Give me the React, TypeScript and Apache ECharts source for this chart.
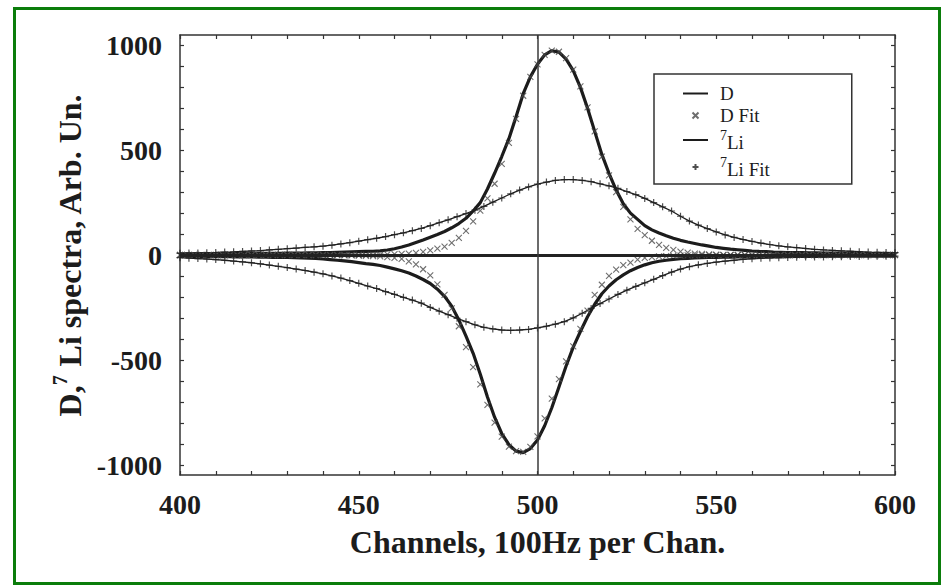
import React, { useEffect, useRef } from "react";
import * as echarts from "echarts";

// Channel positions (x) for the D spectrum and its fit (every 2 channels)
const channelsD = [
  400, 402, 404, 406, 408, 410, 412, 414, 416, 418,
  420, 422, 424, 426, 428, 430, 432, 434, 436, 438,
  440, 442, 444, 446, 448, 450, 452, 454, 456, 458,
  460, 462, 464, 466, 468, 470, 472, 474, 476, 478,
  480, 482, 484, 486, 488, 490, 492, 494, 496, 498,
  500, 502, 504, 506, 508, 510, 512, 514, 516, 518,
  520, 522, 524, 526, 528, 530, 532, 534, 536, 538,
  540, 542, 544, 546, 548, 550, 552, 554, 556, 558,
  560, 562, 564, 566, 568, 570, 572, 574, 576, 578,
  580, 582, 584, 586, 588, 590, 592, 594, 596, 598,
  600,
];

// D spectrum, upper branch (solid line)
const dUpper = [
  5, 5, 5, 6, 6, 6, 6, 7, 7, 7,
  7, 8, 8, 8, 8, 9, 9, 9, 10, 10,
  11, 12, 13, 14, 15, 16, 17, 18, 20, 24,
  30, 38, 48, 60, 72, 85, 98, 112, 130, 150,
  175, 210, 250, 315, 390, 470, 555, 660, 770, 850,
  910, 955, 975, 968, 935, 880, 800, 700, 590, 480,
  390, 310, 245, 200, 170, 140, 120, 105, 92, 80,
  70, 62, 55, 48, 42, 36, 32, 28, 25, 22,
  19, 17, 16, 14, 13, 12, 11, 11, 10, 10,
  9, 9, 9, 8, 8, 8, 7, 7, 7, 7,
  6,
];

// D spectrum, lower branch (solid line)
const dLower = [
  -6, -6, -7, -7, -7, -8, -8, -8, -9, -9,
  -9, -10, -10, -11, -11, -12, -13, -14, -15, -16,
  -19, -22, -25, -28, -32, -36, -41, -45, -50, -58,
  -66, -75, -86, -100, -117, -136, -163, -197, -244, -310,
  -387, -469, -569, -678, -774, -852, -905, -936, -943, -924,
  -883, -815, -729, -630, -530, -440, -365, -295, -235, -185,
  -148, -118, -95, -75, -60, -47, -37, -30, -25, -21,
  -18, -16, -14, -13, -12, -11, -10, -10, -9, -9,
  -9, -8, -8, -8, -8, -7, -7, -7, -7, -7,
  -6, -6, -6, -6, -6, -6, -5, -5, -5, -5,
  -5,
];

// D fit, upper branch (x markers)
const dFitUpper = [
  0, 0, 0, 0, 0, 0, 0, 0, 0, 0,
  0, 0, 0, 0, 0, 0, 0, 0, 0, 0,
  0, 0, 0, 0, 0, 0, 1, 1, 2, 3,
  4, 5, 7, 10, 15, 22, 30, 40, 58, 82,
  115, 160, 212, 270, 340, 435, 535, 650, 760, 850,
  910, 955, 975, 970, 940, 885, 805, 705, 590, 470,
  380, 300, 230, 170, 125, 95, 68, 48, 34, 24,
  16, 11, 7, 5, 3, 2, 1, 1, 0, 0,
  0, 0, 0, 0, 0, 0, 0, 0, 0, 0,
  0, 0, 0, 0, 0, 0, 0, 0, 0, 0,
  0,
];

// D fit, lower branch (x markers)
const dFitLower = [
  0, 0, 0, 0, 0, 0, 0, 0, 0, 0,
  0, 0, 0, 0, 0, 0, 0, 0, 0, 0,
  0, -1, -1, -2, -2, -3, -4, -5, -7, -10,
  -14, -19, -30, -45, -68, -97, -140, -190, -255, -340,
  -440, -535, -617, -715, -800, -867, -915, -936, -940, -916,
  -866, -780, -686, -592, -508, -436, -353, -265, -190, -142,
  -100, -70, -48, -36, -22, -14, -10, -7, -5, -4,
  -3, -2, -2, -1, -1, -1, -1, 0, 0, 0,
  0, 0, 0, 0, 0, 0, 0, 0, 0, 0,
  0, 0, 0, 0, 0, 0, 0, 0, 0, 0,
  0,
];

// Channel positions (x) for the 7Li spectrum and its fit
const channelsLi = [
  400, 402.5, 405, 407.5, 410, 412.5, 415, 417.5,
  420, 422.5, 425, 427.5, 430, 432.5, 435, 437.5,
  440, 442.5, 445, 447.5, 450, 452.5, 455, 457.5,
  460, 462.5, 465, 467.5, 470, 472.5, 475, 477.5,
  480, 482.5, 485, 487.5, 490, 492.5, 495, 497.5,
  500, 502.5, 505, 507.5, 510, 512.5, 515, 517.5,
  520, 522.5, 525, 527.5, 530, 532.5, 535, 537.5,
  540, 542.5, 545, 547.5, 550, 552.5, 555, 557.5,
  560, 562.5, 565, 567.5, 570, 572.5, 575, 577.5,
  580, 582.5, 585, 587.5, 590, 592.5, 595, 597.5,
  600,
];

// 7Li spectrum, upper branch
const liUpper = [
  8, 9, 10, 11, 12, 14, 15, 17,
  19, 21, 24, 27, 30, 33, 36, 39,
  42, 47, 53, 59, 66, 73, 80, 88,
  97, 106, 116, 127, 140, 154, 168, 183,
  198, 214, 232, 252, 272, 292, 310, 325,
  338, 348, 356, 360, 360, 356, 350, 340,
  330, 318, 303, 288, 270, 250, 230, 210,
  185, 162, 143, 126, 110, 96, 84, 74,
  65, 57, 50, 44, 39, 35, 31, 27,
  24, 22, 20, 18, 16, 14, 13, 12,
  11,
];

// 7Li spectrum, lower branch
const liLower = [
  -13, -15, -17, -19, -22, -25, -29, -33,
  -37, -42, -48, -54, -60, -67, -74, -82,
  -90, -100, -110, -122, -135, -148, -160, -175,
  -188, -202, -215, -230, -250, -268, -285, -302,
  -318, -333, -345, -353, -358, -360, -358, -355,
  -348, -340, -330, -318, -300, -278, -255, -232,
  -210, -188, -168, -150, -133, -116, -98, -82,
  -67, -56, -47, -40, -34, -29, -25, -21,
  -18, -16, -14, -13, -12, -11, -10, -9,
  -9, -8, -8, -7, -7, -6, -6, -6,
  -5,
];

// 7Li fit (the + markers sit on the measured curve)
const liFitUpper = liUpper;
const liFitLower = liLower;

const FONT = '"Liberation Serif", "Times New Roman", Times, serif';
const INK = "#1c1c1c";
const AXIS = "#333333";
const X_PATH = "path://M0,0L10,10M10,0L0,10";
const PLUS_PATH = "path://M5,0L5,10M0,5L10,5";
const LINE_ICON = "path://M0,0H100V8H0Z";

const pairs = (xs: number[], ys: number[]) => xs.map((x, i) => [x, ys[i]]);

const tickLine = { color: AXIS, width: 1.2 };

const lineSeries = (name: string, xs: number[], ys: number[], width: number, extra: any = {}) => ({
  name,
  type: "line",
  xAxisIndex: 0,
  yAxisIndex: 0,
  data: pairs(xs, ys),
  symbol: "none",
  smooth: false,
  lineStyle: { color: INK, width },
  itemStyle: { color: INK },
  z: 3,
  ...extra,
});

const markerSeries = (name: string, xs: number[], ys: number[], symbol: string, size: number, color: string, bw: number) => ({
  name,
  type: "scatter",
  xAxisIndex: 0,
  yAxisIndex: 0,
  data: pairs(xs, ys),
  symbol,
  symbolSize: size,
  itemStyle: { color: "rgba(0,0,0,0)", borderColor: color, borderWidth: bw },
  z: 4,
});

const legendName = (name: string) => {
  if (name === "7Li") return "{s|7}{c|Li}";
  if (name === "7Li Fit") return "{s|7}{c|Li Fit}";
  return "{b|" + name + "}";
};

const plainNumber = (v: number) => String(v);

const option: any = {
  animation: false,
  backgroundColor: "#ffffff",
  graphic: [
    {
      type: "rect",
      shape: { x: 14.5, y: 8.5, width: 925, height: 575 },
      style: { fill: "none", stroke: "#0b7d0b", lineWidth: 3 },
      silent: true,
      z: 100,
    },
  ],
  grid: [
    { left: 180, right: 51, top: 35, bottom: 110 },
    { left: 180, right: 51, top: 45, bottom: 120 },
  ],
  xAxis: [
    {
      gridIndex: 0,
      type: "value",
      min: 400,
      max: 600,
      interval: 50,
      position: "bottom",
      axisLine: { show: true, onZero: false, lineStyle: { color: AXIS, width: 1.5 } },
      axisTick: { show: true, inside: true, length: 4, lineStyle: tickLine },
      minorTick: { show: true, splitNumber: 5, length: 4, lineStyle: tickLine },
      splitLine: { show: false },
      axisLabel: { fontFamily: FONT, fontSize: 28, fontWeight: "bold", color: INK, margin: 15, formatter: plainNumber },
      name: "Channels, 100Hz per Chan.",
      nameLocation: "middle",
      nameGap: 51,
      nameTextStyle: { fontFamily: FONT, fontSize: 32, fontWeight: "bold", color: INK },
    },
    {
      gridIndex: 0,
      type: "value",
      min: 400,
      max: 600,
      interval: 50,
      position: "top",
      axisLine: { show: true, onZero: false, lineStyle: { color: AXIS, width: 1.5 } },
      axisTick: { show: true, inside: true, length: 4, lineStyle: tickLine },
      minorTick: { show: true, splitNumber: 5, length: 4, lineStyle: tickLine },
      splitLine: { show: false },
      axisLabel: { show: false },
    },
    { gridIndex: 1, type: "value", min: 400, max: 600, show: false },
  ],
  yAxis: [
    {
      gridIndex: 0,
      type: "value",
      min: -1050,
      max: 1050,
      position: "left",
      axisLine: { show: true, onZero: false, lineStyle: { color: AXIS, width: 1.5 } },
      axisTick: { show: false },
      axisLabel: { show: false },
      splitLine: { show: false },
    },
    {
      gridIndex: 0,
      type: "value",
      min: -1050,
      max: 1050,
      position: "right",
      axisLine: { show: true, onZero: false, lineStyle: { color: AXIS, width: 1.5 } },
      axisTick: { show: false },
      axisLabel: { show: false },
      splitLine: { show: false },
    },
    {
      gridIndex: 1,
      type: "value",
      min: -1000,
      max: 1000,
      interval: 500,
      position: "left",
      axisLine: { show: false, onZero: false },
      axisTick: { show: true, inside: true, length: 4, lineStyle: tickLine },
      minorTick: { show: true, splitNumber: 5, length: 4, lineStyle: tickLine },
      splitLine: { show: false },
      axisLabel: { fontFamily: FONT, fontSize: 28, fontWeight: "bold", color: INK, margin: 18, formatter: plainNumber },
      name: "{b|D,}{s|7}{b| Li spectra, Arb. Un.}",
      nameLocation: "middle",
      nameGap: 84,
      nameTextStyle: {
        fontFamily: FONT,
        fontSize: 32,
        fontWeight: "bold",
        color: INK,
        rich: {
          b: { fontFamily: FONT, fontSize: 32, fontWeight: "bold", color: INK, lineHeight: 36, verticalAlign: "bottom" },
          s: { fontFamily: FONT, fontSize: 20, fontWeight: "bold", color: INK, lineHeight: 18, verticalAlign: "top" },
        },
      },
    },
    {
      gridIndex: 1,
      type: "value",
      min: -1000,
      max: 1000,
      interval: 500,
      position: "right",
      axisLine: { show: false, onZero: false },
      axisTick: { show: true, inside: true, length: 4, lineStyle: tickLine },
      minorTick: { show: true, splitNumber: 5, length: 4, lineStyle: tickLine },
      splitLine: { show: false },
      axisLabel: { show: false },
    },
  ],
  legend: {
    orient: "vertical",
    left: 654,
    top: 74,
    padding: [10, 82, 5, 29],
    itemWidth: 25,
    itemHeight: 6,
    itemGap: 3,
    borderColor: AXIS,
    borderWidth: 1.5,
    borderRadius: 0,
    backgroundColor: "#ffffff",
    selectedMode: false,
    symbolKeepAspect: true,
    data: [
      { name: "D", icon: LINE_ICON, itemStyle: { color: INK } },
      { name: "D Fit" },
      { name: "7Li", icon: LINE_ICON, itemStyle: { color: INK } },
      { name: "7Li Fit" },
    ],
    formatter: legendName,
    textStyle: {
      fontFamily: FONT,
      fontSize: 19,
      color: INK,
      rich: {
        b: { fontFamily: FONT, fontSize: 19, color: INK, padding: [0, 0, 0, 7], lineHeight: 22 },
        s: { fontFamily: FONT, fontSize: 14, color: INK, padding: [0, 0, 0, 7], lineHeight: 12, verticalAlign: "top" },
        c: { fontFamily: FONT, fontSize: 19, color: INK, lineHeight: 24, verticalAlign: "bottom" },
      },
    },
  },
  series: [
    lineSeries("D", channelsD, dUpper, 3.2, {
      markLine: {
        silent: true,
        symbol: ["none", "none"],
        label: { show: false },
        animation: false,
        data: [
          { yAxis: 0, lineStyle: { color: "#222222", width: 3, type: "solid" } },
          { xAxis: 500, lineStyle: { color: "#3a3a3a", width: 1.5, type: "solid" } },
        ],
      },
    }),
    lineSeries("D", channelsD, dLower, 3.2),
    markerSeries("D Fit", channelsD, dFitUpper, X_PATH, 6, "#4a4a4a", 1.1),
    markerSeries("D Fit", channelsD, dFitLower, X_PATH, 6, "#4a4a4a", 1.1),
    lineSeries("7Li", channelsLi, liUpper, 1.3),
    lineSeries("7Li", channelsLi, liLower, 1.3),
    markerSeries("7Li Fit", channelsLi, liFitUpper, PLUS_PATH, 7, "#222222", 1.2),
    markerSeries("7Li Fit", channelsLi, liFitLower, PLUS_PATH, 7, "#222222", 1.2),
  ],
};

export default function App() {
  const ref = useRef<HTMLDivElement>(null);
  useEffect(() => {
    if (!ref.current) return;
    const chart = echarts.init(ref.current, null, { renderer: "svg" });
    chart.setOption(option);
    return () => chart.dispose();
  }, []);
  return (
    <div
      ref={ref}
      style={{ position: "fixed", left: 0, top: 0, width: 946, height: 585, background: "#ffffff" }}
    />
  );
}
